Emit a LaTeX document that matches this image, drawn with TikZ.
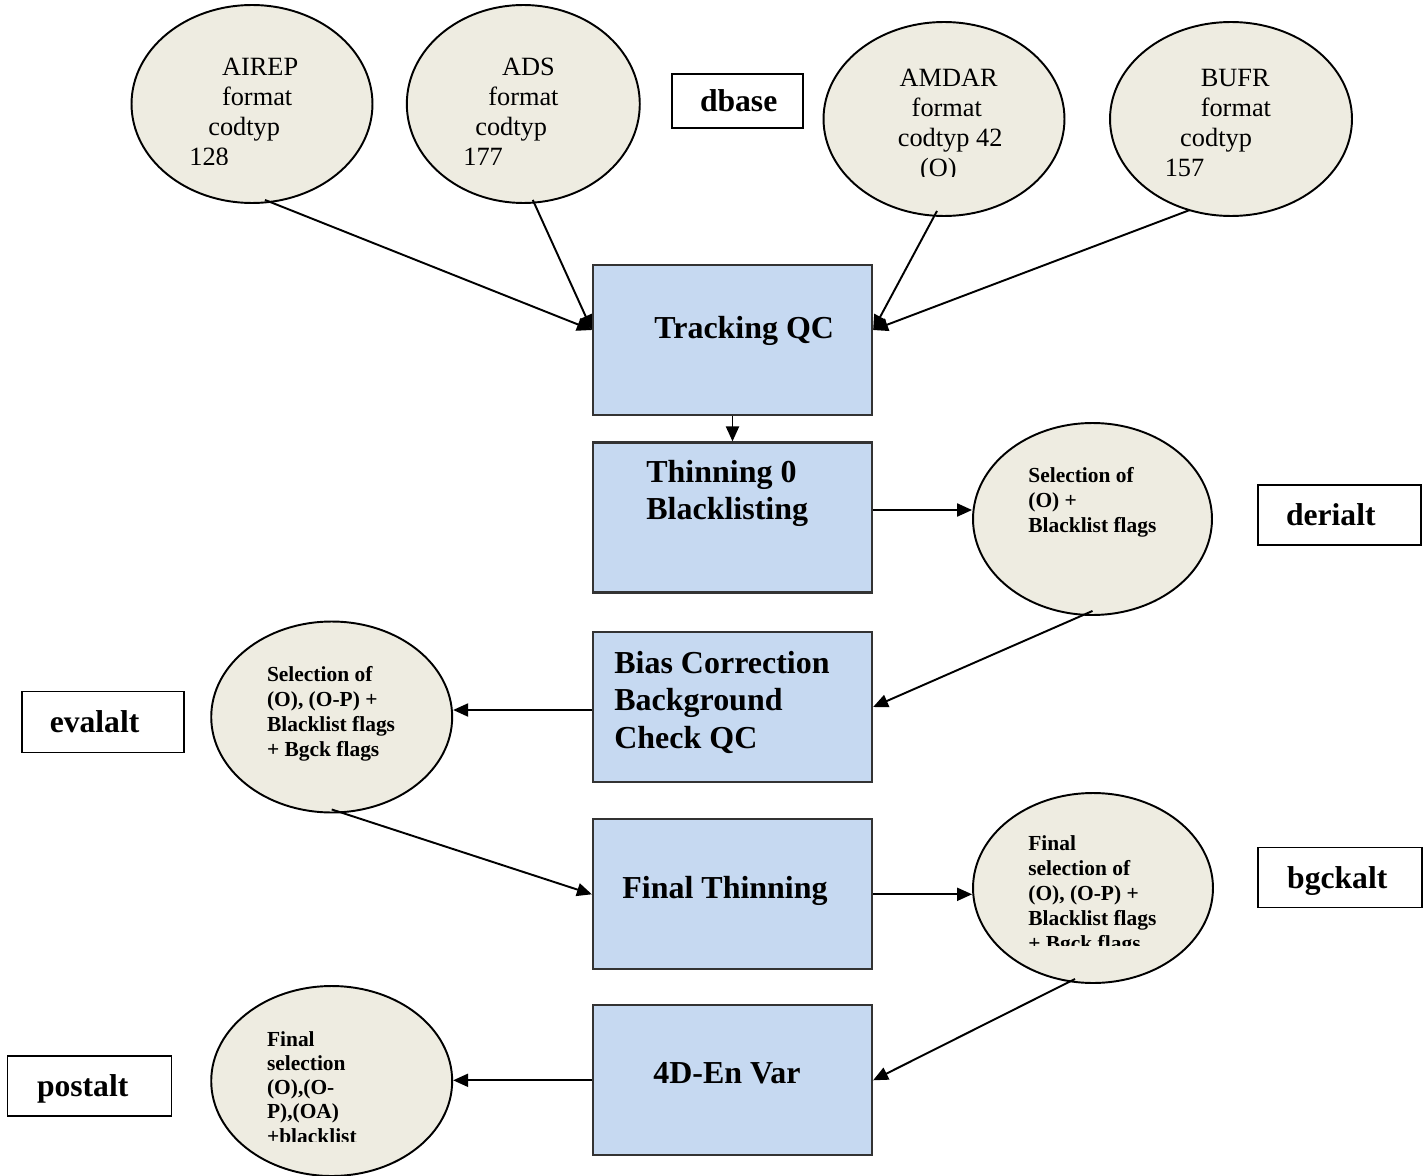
\documentclass[tikz,border=0pt]{standalone}
\usepackage{fontspec}
\setmainfont{Liberation Serif}
\usetikzlibrary{arrows.meta}
\usetikzlibrary{shapes.geometric}

\definecolor{ovalfill}{HTML}{EEECE1}
\definecolor{boxfill}{HTML}{C6D9F1}

\tikzset{
  oval/.style={ellipse, draw, line width=1.1pt, fill=ovalfill, inner sep=0pt},
  stage/.style={rectangle, draw=black!80, line width=1.3pt, fill=boxfill,
    minimum width=5.58cm, minimum height=3cm, inner sep=0pt},
  tag/.style={rectangle, draw, line width=1.1pt, inner sep=0pt, align=left,
    text height=12.4pt, text depth=0pt, font=\fontsize{18}{21}\selectfont\bfseries},
  src/.style={anchor=north west, inner sep=0pt, align=left, font=\fontsize{15}{17.1}\selectfont},
  sel/.style={anchor=north west, inner sep=0pt, align=left, font=\fontsize{12.2}{14.2}\selectfont\bfseries},
  lbl/.style={anchor=north west, inner sep=0pt, align=left, font=\fontsize{18.2}{21.2}\selectfont\bfseries},
  arr/.style={-{Triangle[length=8.5pt,width=7.4pt]}, line width=1.1pt},
}

\begin{document}
\begin{tikzpicture}[x=0.02cm, y=-0.02cm]
\useasboundingbox (0,0) rectangle (1427,1176);

% data sources
\node[oval, minimum width=4.82cm, minimum height=3.96cm] (airep) at (252,104) {};
\node[oval, minimum width=4.66cm, minimum height=3.96cm] (ads) at (523.3,104) {};
\node[oval, minimum width=4.82cm, minimum height=3.88cm] (amdar) at (944,119) {};
\node[oval, minimum width=4.84cm, minimum height=3.88cm] (bufr) at (1231,119) {};

\begin{scope}
\clip (130,0) rectangle (650,164);
\node[src] (airep-t) at (189,57.7) {\hspace*{18.6pt}AIREP\\\hspace*{18.6pt}format\\\hspace*{10.8pt}codtyp\\128};
\node[src] (ads-t) at (463,57.7) {\hspace*{22pt}ADS\\\hspace*{14.2pt}format\\\hspace*{6.8pt}codtyp\\177};
\end{scope}
\begin{scope}
\clip (820,0) rectangle (1360,176);
\node[src] (amdar-t) at (897.5,68.6) {\hspace*{1pt}AMDAR\\\hspace*{7.9pt}format\\codtyp 42\\\hspace*{12.7pt}(O)};
\node[src] (bufr-t) at (1164.4,68.6) {\hspace*{20.5pt}BUFR\\\hspace*{20.5pt}format\\\hspace*{8.8pt}codtyp\\157};
\end{scope}

\node[tag, minimum width=2.62cm, text width=1.5cm, minimum height=1.08cm] (dbase) at (737.5,101) {dbase};

% processing steps
\node[stage] (track) at (732.5,340) {};
\node[stage] (thin) at (732.5,517.5) {};
\node[stage] (bias) at (732.5,707) {};
\node[stage] (ft) at (732.5,894.3) {};
\node[stage] (fd) at (732.5,1080.3) {};

\node[lbl] (track-t) at (654,316) {Tracking QC};
\node[lbl] (thin-t) at (646,459.6) {Thinning 0\\Blacklisting};
\node[lbl] (bias-t) at (614,651) {Bias Correction\\Background\\Check QC};
\node[lbl] (ft-t) at (622,876) {Final Thinning};
\node[lbl] (fd-t) at (653,1062.4) {4D-En Var};

% selections
\node[oval, minimum width=4.78cm, minimum height=3.84cm] (sel1) at (1092.5,519) {};
\node[oval, minimum width=4.82cm, minimum height=3.82cm] (eval) at (331.7,717) {};
\node[oval, minimum width=4.8cm, minimum height=3.8cm] (fsel) at (1093,888) {};
\node[oval, minimum width=4.82cm, minimum height=3.8cm] (post) at (331.7,1081) {};

\node[sel] (sel1-t) at (1028,467.4) {Selection of\\(O) +\\Blacklist flags};
\node[sel] (eval-t) at (266.7,666) {Selection of\\(O), (O-P) +\\Blacklist flags\\+ Bgck flags};
\begin{scope}
\clip (973,790) rectangle (1213,945);
\node[sel] (fsel-t) at (1028,835.4) {Final\\selection of\\(O), (O-P) +\\Blacklist flags\\+ Bgck flags};
\end{scope}
\begin{scope}
\clip (211,985) rectangle (452,1141);
\node[sel, font=\fontsize{12.2}{13.8}\selectfont\bfseries] (post-t) at (266.7,1031) {Final\\selection\\(O),(O-\\P),(OA)\\+blacklist};
\end{scope}

% output files
\node[tag, minimum width=3.26cm, text width=2.14cm, minimum height=1.2cm] (derialt) at (1339.5,515) {derialt};
\node[tag, minimum width=3.25cm, text width=2.13cm, minimum height=1.22cm] (evalalt) at (103,722) {evalalt};
\node[tag, minimum width=3.28cm, text width=2.1cm, minimum height=1.2cm] (bgckalt) at (1339.7,877.5) {bgckalt};
\node[tag, minimum width=3.28cm, text width=2.1cm, minimum height=1.2cm] (postalt) at (89.5,1086) {postalt};

% connectors
\draw[arr] ([xshift=0.26cm,yshift=0.08cm]airep.south) -- ([yshift=0.2cm]track.west);
\draw[arr] ([xshift=0.19cm,yshift=0.08cm]ads.south) -- ([yshift=0.2cm]track.west);
\draw[arr] ([xshift=-0.14cm,yshift=0.12cm]amdar.south) -- ([yshift=0.2cm]track.east);
\draw[arr] ([xshift=-0.82cm,yshift=0.14cm]bufr.south) -- ([yshift=0.2cm]track.east);
\draw[arr] (track.south) -- (thin.north);
\draw[arr] ([yshift=0.15cm]thin.east) -- ([yshift=0.15cm]thin.east -| sel1.west);
\draw[arr] ([yshift=0.1cm]sel1.south) -- (bias.east);
\draw[arr] ([yshift=-0.06cm]bias.west) -- ([yshift=-0.06cm]bias.west -| eval.east);
\draw[arr] ([yshift=0.08cm]eval.south) -- (ft.west);
\draw[arr] (ft.east) -- (ft.east -| fsel.west);
\draw[arr] ([xshift=-0.36cm,yshift=0.1cm]fsel.south) -- (fd.east);
\draw[arr] (fd.west) -- (fd.west -| post.east);

\end{tikzpicture}
\end{document}
